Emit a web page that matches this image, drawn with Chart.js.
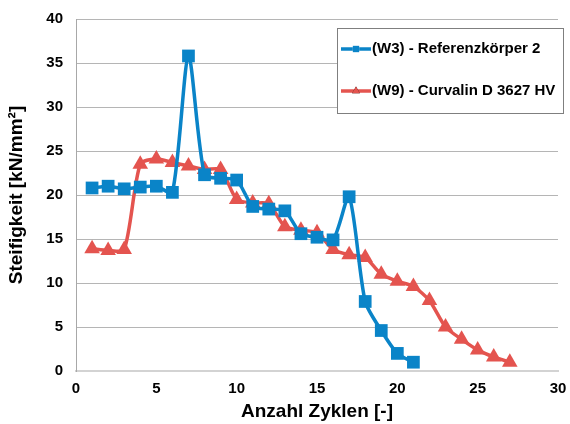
<!DOCTYPE html>
<html>
<head>
<meta charset="utf-8">
<script src="https://cdn.jsdelivr.net/npm/chart.js@4.4.1/dist/chart.umd.min.js"></script>
<style>
  html, body { margin: 0; padding: 0; background: #fff; }
  #wrap { width: 570px; height: 424px; }
</style>
</head>
<body>
<div id="wrap"><canvas id="stiffChart" width="570" height="424"></canvas></div>
<script>
// Steifigkeit je Zyklus
const cyclesW3 = [1, 2, 3, 4, 5, 6, 7, 8, 9, 10, 11, 12, 13, 14, 15, 16, 17, 18, 19, 20, 21];
const stiffW3 = [20.8, 21.0, 20.7, 20.9, 21.0, 20.3, 35.8, 22.3, 21.9, 21.7, 18.7, 18.4, 18.2, 15.6, 15.2, 14.9, 19.8, 7.9, 4.6, 2.0, 1.0];

const cyclesW9 = [1, 2, 3, 4, 5, 6, 7, 8, 9, 10, 11, 12, 13, 14, 15, 16, 17, 18, 19, 20, 21, 22, 23, 24, 25, 26, 27];
const stiffW9 = [13.9, 13.7, 13.8, 23.5, 24.1, 23.7, 23.3, 22.9, 22.9, 19.5, 19.1, 19.0, 16.4, 16.0, 15.7, 13.8, 13.2, 12.9, 11.0, 10.2, 9.6, 8.0, 5.0, 3.6, 2.4, 1.6, 1.0];

const seriesNames = ['(W3) - Referenzkörper 2', '(W9) - Curvalin D 3627 HV'];
const xTicks = [0, 5, 10, 15, 20, 25, 30];
const yTicks = [0, 5, 10, 15, 20, 25, 30, 35, 40];

const BLUE = '#0a84c8';
const RED = '#e4544f';
const FONT = "'Liberation Sans', Arial, sans-serif";

function toPoints(xs, ys) {
  return xs.map((x, i) => ({ x: x, y: ys[i] }));
}

// legend box drawn inside the plot, top right
const boxLegend = {
  id: 'boxLegend',
  afterDraw(chart) {
    const ctx = chart.ctx;
    const x0 = 337, y0 = 28, w = 226, h = 85;
    ctx.save();
    ctx.fillStyle = '#ffffff';
    ctx.fillRect(x0, y0, w, h);
    ctx.strokeStyle = '#7f7f7f';
    ctx.lineWidth = 1;
    ctx.strokeRect(x0 + 0.5, y0 + 0.5, w, h);

    const rows = [49, 91];
    chart.data.datasets.forEach((ds, i) => {
      const y = rows[i];
      ctx.strokeStyle = ds.borderColor;
      ctx.lineWidth = 3.5;
      ctx.beginPath();
      ctx.moveTo(341, y);
      ctx.lineTo(371, y);
      ctx.stroke();
      Chart.helpers.drawPoint(ctx, {
        pointStyle: ds.pointStyle,
        radius: 4.5,
        borderWidth: 0
      }, 356, y);
      ctx.fillStyle = ds.borderColor;
      ctx.fill();
      ctx.fillStyle = '#000';
      ctx.font = 'bold 15px ' + FONT;
      ctx.textBaseline = 'middle';
      ctx.textAlign = 'left';
      ctx.fillText(ds.label, 372, y);
    });
    ctx.restore();
  }
};

new Chart(document.getElementById('stiffChart'), {
  type: 'line',
  data: {
    datasets: [
      {
        label: seriesNames[0],
        data: toPoints(cyclesW3, stiffW3),
        borderColor: BLUE,
        backgroundColor: BLUE,
        borderWidth: 3.5,
        pointStyle: 'rect',
        pointRadius: 9,
        pointBorderWidth: 0,
        tension: 0.25
      },
      {
        label: seriesNames[1],
        data: toPoints(cyclesW9, stiffW9),
        borderColor: RED,
        backgroundColor: RED,
        borderWidth: 3.5,
        pointStyle: 'triangle',
        pointRadius: 9,
        pointBorderWidth: 0,
        tension: 0.25
      }
    ]
  },
  options: {
    responsive: false,
    animation: false,
    layout: { padding: { top: 19, right: 12, left: 0, bottom: 0 } },
    plugins: {
      legend: { display: false },
      tooltip: { enabled: false }
    },
    scales: {
      x: {
        type: 'linear',
        min: 0,
        max: 30,
        afterBuildTicks(scale) {
          scale.ticks = xTicks.map(v => ({ value: v }));
        },
        afterFit(scale) {
          scale.height = 53;
          scale.paddingLeft = 0;
          scale.paddingRight = 0;
        },
        grid: { display: false, drawTicks: false },
        border: { display: true, color: '#d3d3d3', width: 2 },
        ticks: {
          padding: 9,
          color: '#000',
          font: { family: FONT, size: 15, weight: 'bold' }
        },
        title: {
          display: true,
          text: 'Anzahl Zyklen [-]',
          color: '#000',
          padding: { top: 0, bottom: 1 },
          font: { family: FONT, size: 19, weight: 'bold' }
        }
      },
      y: {
        min: 0,
        max: 40,
        afterBuildTicks(scale) {
          scale.ticks = yTicks.map(v => ({ value: v }));
        },
        afterFit(scale) {
          scale.width = 76;
          scale.paddingTop = 0;
          scale.paddingBottom = 0;
        },
        grid: { color: '#b5b5b5', lineWidth: 1, drawTicks: false },
        border: { display: true, color: '#a8a8a8', width: 1 },
        ticks: {
          padding: 13,
          color: '#000',
          font: { family: FONT, size: 15, weight: 'bold' }
        },
        title: {
          display: true,
          text: 'Steifigkeit [kN/mm²]',
          color: '#000',
          padding: { top: 5, bottom: 0 },
          font: { family: FONT, size: 19, weight: 'bold' }
        }
      }
    }
  },
  plugins: [boxLegend]
});
</script>
</body>
</html>
